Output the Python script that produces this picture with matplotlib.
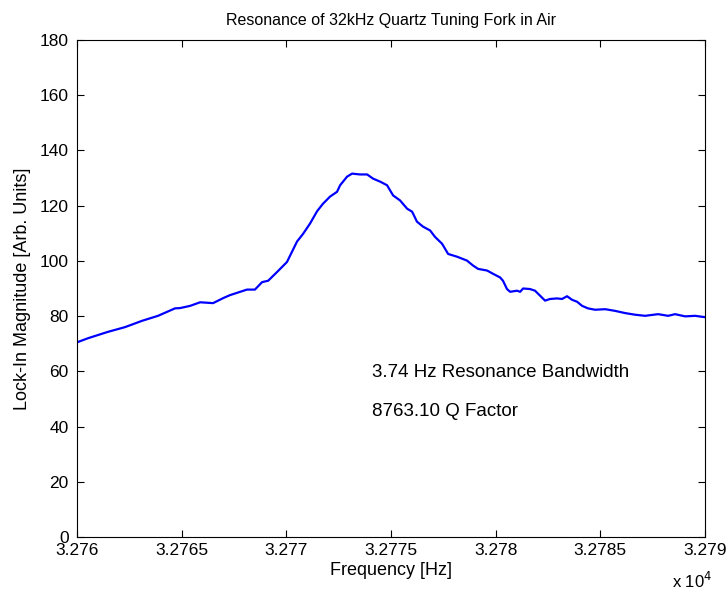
import matplotlib
matplotlib.use("Agg")
import matplotlib.pyplot as plt

plt.rcParams['font.family'] = ['Liberation Sans', 'DejaVu Sans']

# frequency [Hz] and lock-in magnitude
freq = [32760.00, 32760.53, 32761.48, 32762.29, 32763.11, 32763.87, 32764.68,
        32764.92, 32765.40, 32765.88, 32766.50, 32766.98, 32767.31, 32768.12,
        32768.50, 32768.84, 32769.13, 32769.56, 32770.03, 32770.51, 32770.80,
        32771.13, 32771.47, 32771.75, 32772.09, 32772.42, 32772.57, 32772.90,
        32773.14, 32773.52, 32773.86, 32774.14, 32774.48, 32774.81, 32775.10,
        32775.43, 32775.77, 32776.01, 32776.24, 32776.53, 32776.87, 32777.10,
        32777.44, 32777.73, 32778.16, 32778.63, 32778.92, 32779.16, 32779.59,
        32779.88, 32780.21, 32780.35, 32780.54, 32780.69, 32781.02, 32781.17,
        32781.31, 32781.64, 32781.88, 32782.12, 32782.36, 32782.60, 32782.93,
        32783.17, 32783.41, 32783.65, 32783.89, 32784.13, 32784.41, 32784.75,
        32785.23, 32785.70, 32786.18, 32786.66, 32787.14, 32787.76, 32788.24,
        32788.57, 32789.05, 32789.53, 32790.00]
mag = [70.5, 72.0, 74.3, 76.0, 78.3, 80.1, 82.8,
       82.9, 83.7, 85.0, 84.7, 86.5, 87.6, 89.6,
       89.6, 92.3, 92.8, 96.0, 99.6, 107.0, 109.8,
       113.5, 118.0, 120.7, 123.3, 125.0, 127.4, 130.5,
       131.6, 131.3, 131.3, 129.8, 128.7, 127.4, 123.7,
       121.9, 118.9, 117.8, 114.2, 112.4, 111.0, 108.7,
       106.2, 102.5, 101.5, 100.1, 98.3, 97.1, 96.5,
       95.3, 94.0, 92.8, 89.8, 88.8, 89.2, 88.8,
       90.0, 89.8, 89.2, 87.4, 85.6, 86.2, 86.4,
       86.2, 87.2, 85.9, 85.2, 83.7, 82.8, 82.3,
       82.5, 81.9, 81.1, 80.5, 80.1, 80.7, 80.1,
       80.7, 79.9, 80.1, 79.6]

xticks = [32760, 32765, 32770, 32775, 32780, 32785, 32790]
xticklabels = ['3.276', '3.2765', '3.277', '3.2775', '3.278', '3.2785', '3.279']
yticks = list(range(0, 181, 20))

bandwidth = 3.74
qfactor = 8763.10

fig = plt.figure(figsize=(7.28, 5.95), dpi=100)
ax = fig.add_axes([0.1058, 0.0975, 0.8626, 0.8353])

ax.plot(freq, mag, color='#0000ff', linewidth=1.6)

ax.set_xlim(32760, 32790)
ax.set_ylim(0, 180)
ax.set_xticks(xticks)
ax.set_xticklabels(xticklabels)
ax.set_yticks(yticks)
ax.tick_params(direction='in', top=True, right=True, length=5, width=0.8,
               labelsize=12.5)
ax.tick_params(axis='x', pad=4)
ax.tick_params(axis='y', pad=6)
for s in ax.spines.values():
    s.set_linewidth(0.8)

ax.set_title('Resonance of 32kHz Quartz Tuning Fork in Air', fontsize=11.5, pad=11)
ax.set_xlabel('Frequency [Hz]', fontsize=13, labelpad=3)
ax.set_ylabel('Lock-In Magnitude [Arb. Units]', fontsize=13, labelpad=6)

ax.text(32774.1, 59.6, '%.2f Hz Resonance Bandwidth' % bandwidth,
        fontsize=13.5, va='center', ha='left')
ax.text(32774.1, 45.5, '%.2f Q Factor' % qfactor,
        fontsize=13.5, va='center', ha='left')

fig.text(0.978, 0.006, r'x 10$^4$', fontsize=12, ha='right', va='bottom')

fig.savefig('out.png', dpi=100)
